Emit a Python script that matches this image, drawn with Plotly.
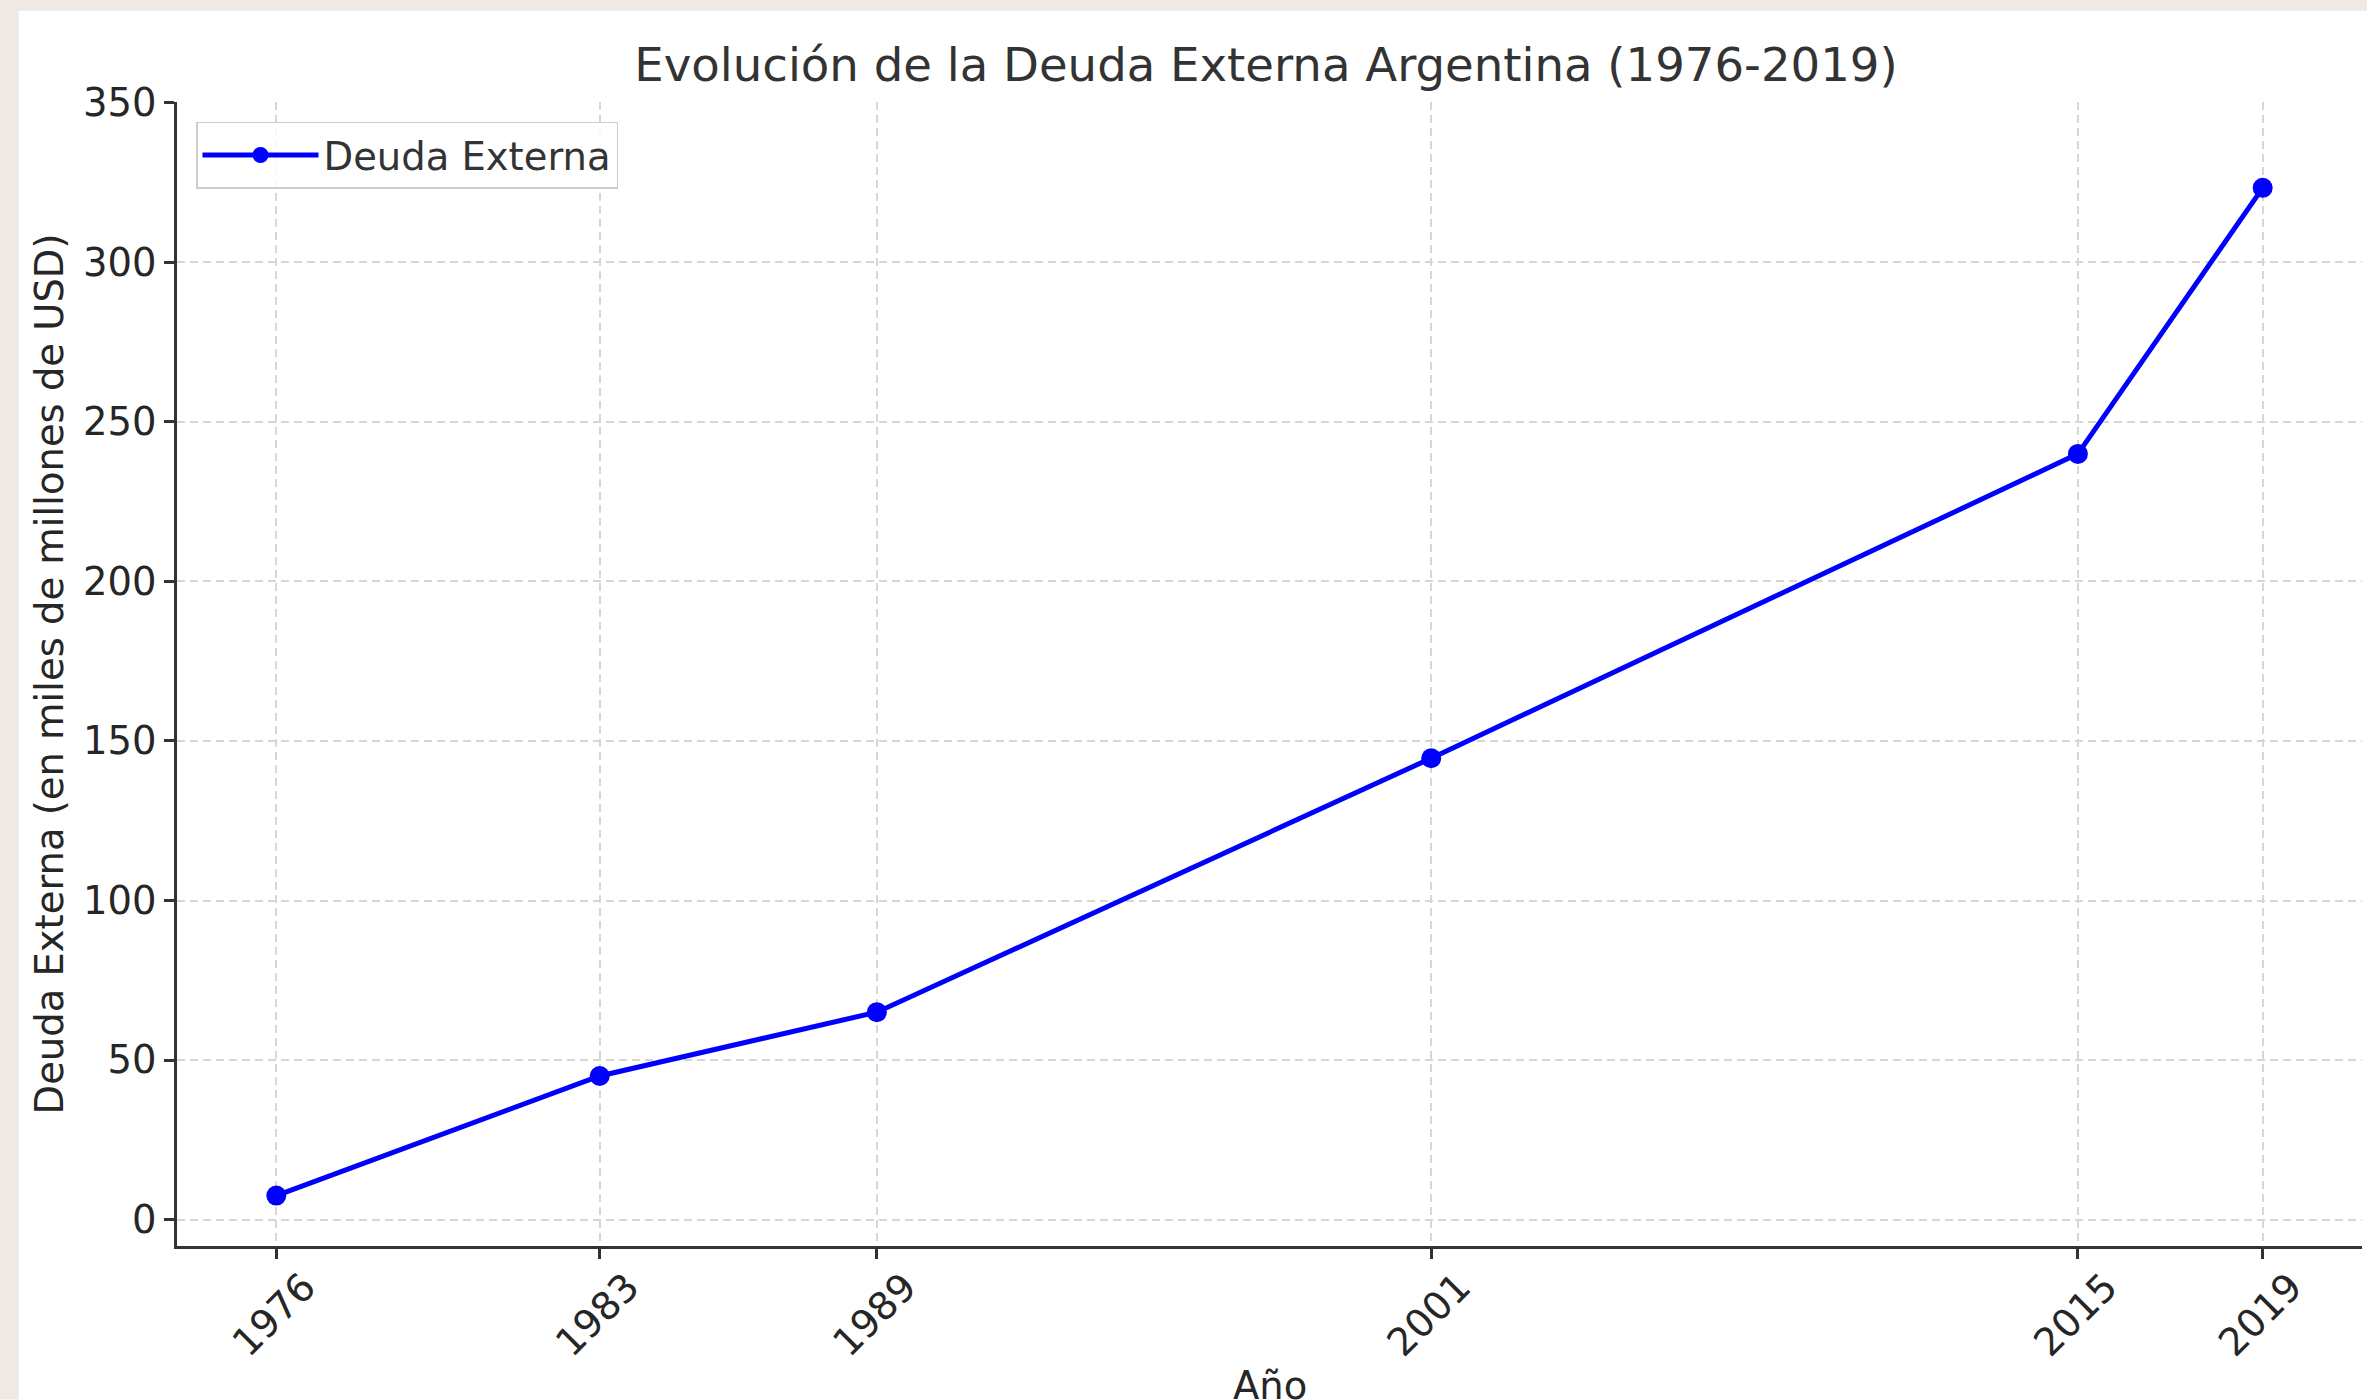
import plotly.graph_objects as go

# Data
years = [1976, 1983, 1989, 2001, 2015, 2019]
deuda = [7.5, 45, 65, 144.6, 240, 323.4]
year_ticks = [1976, 1983, 1989, 2001, 2015, 2019]
year_labels = ["1976", "1983", "1989", "2001", "2015", "2019"]
y_ticks = [0, 50, 100, 150, 200, 250, 300, 350]
x_title = "Año"
y_title = "Deuda Externa (en miles de millones de USD)"
chart_title = "Evolución de la Deuda Externa Argentina (1976-2019)"

W, H = 2367, 1400
ML, MR, MT, MB = 177, 5, 102, 153.5
PW = W - ML - MR
PH = H - MT - MB

FONT = "DejaVu Sans"
BEIGE = "#f0e9e3"

fig = go.Figure()
fig.add_trace(go.Scatter(
    x=years, y=deuda, mode="lines+markers", name="Deuda Externa",
    line=dict(color="#0000ff", width=5),
    marker=dict(color="#0000ff", size=20),
))

def px_x(p):
    return (p - ML) / PW

def px_y(p):
    return (H - MB - p) / PH

shapes = [
    dict(type="rect", xref="paper", yref="paper", layer="below",
         x0=px_x(0), x1=px_x(18.75), y0=px_y(H), y1=px_y(0),
         fillcolor=BEIGE, line=dict(width=0)),
    dict(type="rect", xref="paper", yref="paper", layer="below",
         x0=px_x(0), x1=px_x(W), y0=px_y(10.7), y1=px_y(0),
         fillcolor=BEIGE, line=dict(width=0)),
]

fig.update_layout(
    width=W, height=H,
    margin=dict(l=ML, r=MR, t=MT, b=MB, autoexpand=False),
    paper_bgcolor="white", plot_bgcolor="white",
    font=dict(family=FONT, size=38.5, color="#262626"),
    title=dict(text=chart_title,
               x=(1266) / W, xanchor="center", xref="container",
               y=1 - 65 / H, yanchor="middle", yref="container",
               font=dict(family=FONT, size=46.6, color="#333333")),
    shapes=shapes,
    annotations=[dict(text=x_title, xref="paper", yref="paper",
                      x=0.5, y=px_y(1362), xanchor="center", yanchor="top",
                      showarrow=False, font=dict(size=38.5, color="#262626"))],
    showlegend=True,
    legend=dict(x=px_x(196), y=px_y(122), xanchor="left", yanchor="top",
                bgcolor="rgba(255,255,255,0.85)", bordercolor="#cccccc",
                borderwidth=1.5, itemwidth=116,
                font=dict(size=38.5, color="#333333")),
    xaxis=dict(
        range=[1973.85, 2021.15], tickmode="array", tickvals=year_ticks,
        ticktext=year_labels, tickangle=-45, ticks="outside", ticklen=10,
        tickwidth=2.5, tickcolor="#333333", showline=True, linecolor="#333333",
        linewidth=2.5, showgrid=True, gridcolor="#d6d6d6", gridwidth=1.5,
        griddash="8px,5px", zeroline=False, automargin=False,
        ticklabelshift=28, ticklabelstandoff=-10,
    ),
    yaxis=dict(
        range=[-8.3, 350.3], tickmode="array", tickvals=y_ticks,
        ticks="outside", ticklen=10, tickwidth=2.5, tickcolor="#333333",
        showline=True, linecolor="#333333", linewidth=2.5,
        showgrid=True, gridcolor="#d6d6d6", gridwidth=1.5, griddash="8px,5px",
        zeroline=False, automargin=False,
        title=dict(text=y_title, standoff=8,
                   font=dict(size=38.5, color="#262626")),
    ),
)

fig.write_html(
    "out.html",
    config={"displayModeBar": False},
    post_script="document.body.style.margin='0';document.body.style.padding='0';"
                "document.documentElement.style.overflow='hidden';",
)
